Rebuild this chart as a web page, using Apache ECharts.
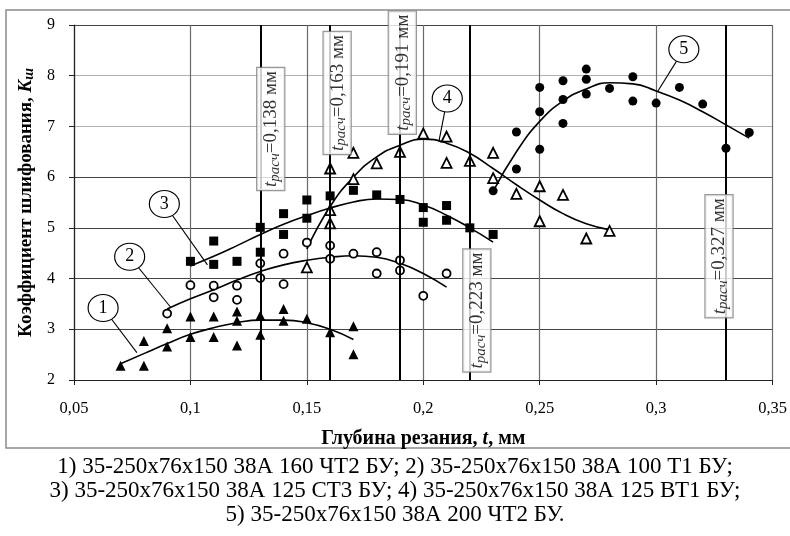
<!DOCTYPE html>
<html><head><meta charset="utf-8">
<script src="https://cdn.jsdelivr.net/npm/echarts@6/dist/echarts.min.js"></script>
<style>html,body{margin:0;padding:0;background:#fff}#c{width:790px;height:536px}</style>
</head><body><div id="c"></div>
<script>
// ---- data ----
const xTicksMin = 0.05, xTicksMax = 0.35, xInterval = 0.05;
const yTicksMin = 2, yTicksMax = 9, yInterval = 1;

const s1Points = [[0.07,2.28],[0.08,2.28],[0.08,2.77],[0.09,3.02],[0.09,2.66],[0.10,3.25],[0.10,2.85],[0.11,3.25],[0.11,2.85],[0.12,3.35],[0.12,3.17],[0.12,2.68],[0.13,3.27],[0.13,2.89],[0.14,3.40],[0.14,3.17],[0.15,3.21],[0.16,2.94],[0.17,3.06],[0.17,2.51]];
const s2Points = [[0.09,3.31],[0.10,3.87],[0.11,3.86],[0.11,3.63],[0.12,3.86],[0.12,3.58],[0.13,4.30],[0.13,4.01],[0.14,4.49],[0.14,3.89],[0.15,4.71],[0.16,4.65],[0.16,4.39],[0.17,4.49],[0.18,4.52],[0.18,4.10],[0.19,4.36],[0.19,4.16],[0.20,3.66],[0.21,4.10]];
const s3Points = [[0.10,4.34],[0.11,4.74],[0.11,4.28],[0.12,4.34],[0.13,5.01],[0.13,4.52],[0.14,5.28],[0.14,4.87],[0.15,5.55],[0.15,5.19],[0.16,5.63],[0.17,5.74],[0.18,5.65],[0.19,5.56],[0.20,5.40],[0.20,5.11],[0.21,5.44],[0.21,5.15],[0.22,5.00],[0.23,4.87]];
const s4Points = [[0.15,4.22],[0.16,6.17],[0.16,5.35],[0.16,5.09],[0.17,6.48],[0.17,5.96],[0.18,6.27],[0.19,6.50],[0.20,6.86],[0.21,6.80],[0.21,6.28],[0.22,6.32],[0.23,6.48],[0.23,5.98],[0.24,5.67],[0.25,5.82],[0.25,5.13],[0.26,5.65],[0.27,4.79],[0.28,4.94]];
const s5Points = [[0.23,5.73],[0.24,6.89],[0.24,6.16],[0.25,7.77],[0.25,7.29],[0.25,6.55],[0.26,7.90],[0.26,7.53],[0.26,7.06],[0.27,8.13],[0.27,7.93],[0.27,7.64],[0.28,7.75],[0.29,7.98],[0.29,7.50],[0.30,7.46],[0.31,7.77],[0.32,7.44],[0.33,6.57],[0.34,6.88]];

const c1 = [[0.07,2.32],[0.08,2.52],[0.09,2.72],[0.10,2.90],[0.11,3.03],[0.12,3.13],[0.13,3.18],[0.14,3.18],[0.15,3.13],[0.16,3.00],[0.17,2.80]];
const c2 = [[0.09,3.40],[0.10,3.60],[0.11,3.78],[0.12,3.97],[0.13,4.14],[0.14,4.27],[0.15,4.36],[0.16,4.42],[0.17,4.45],[0.18,4.42],[0.19,4.30],[0.20,4.10],[0.21,3.83]];
const c3 = [[0.10,4.25],[0.11,4.44],[0.12,4.65],[0.13,4.87],[0.14,5.07],[0.15,5.24],[0.16,5.39],[0.17,5.51],[0.18,5.57],[0.19,5.56],[0.20,5.45],[0.21,5.25],[0.22,5.00],[0.23,4.72]];
const c4 = [[0.15,4.58],[0.16,5.42],[0.17,6.00],[0.18,6.40],[0.19,6.63],[0.20,6.75],[0.21,6.67],[0.22,6.47],[0.23,6.17],[0.24,5.85],[0.25,5.55],[0.26,5.28],[0.27,5.08],[0.28,4.96]];
const c5 = [[0.23,5.72],[0.24,6.50],[0.25,7.10],[0.26,7.50],[0.27,7.74],[0.28,7.86],[0.29,7.84],[0.30,7.70],[0.31,7.52],[0.32,7.29],[0.33,7.03],[0.34,6.77]];

const calloutNames = ['1','2','3','4','5'];
const calloutCenters = [[0.0625,3.42],[0.0739,4.43],[0.0888,5.47],[0.2103,7.55],[0.3119,8.52]];
const calloutEnds = [[0.077,2.54],[0.0916,3.43],[0.1073,4.27],[0.2067,6.70],[0.3005,7.68]];

const annX = [0.1345,0.163,0.191,0.223,0.327];
const annLabelY = [6.95,7.66,8.06,3.37,4.44];
const annText = ['0,138','0,163','0,191','0,223','0,327'];

const captionLines = [
  '1) 35-250x76x150 38А 160 ЧТ2 БУ; 2) 35-250x76x150 38А 100 Т1 БУ;',
  '3) 35-250x76x150 38А 125 СТ3 БУ; 4) 35-250x76x150 38А 125 ВТ1 БУ;',
  '5) 35-250x76x150 38А 200 ЧТ2 БУ.'
];

// ---- chart ----
const SERIF = 'Liberation Serif';
const chart = echarts.init(document.getElementById('c'), null, {renderer:'canvas'});
const fmtX = v => '{a|' + (+v).toFixed(2).replace(/0$/,'').replace('.',',') + '}';

function curve(data){
  return {type:'line', data, smooth:true, showSymbol:false, symbol:'none', silent:true, z:3,
    lineStyle:{color:'#000', width:1.6}};
}
function pts(data, symbol, size, fill, stroke){
  return {type:'scatter', data, symbol, symbolSize:size, z:4, silent:true,
    itemStyle:{color:fill, borderColor:'#000', borderWidth:stroke, opacity:1}};
}

const option = {
  animation:false,
  backgroundColor:'#fff',
  textStyle:{fontFamily:SERIF},
  grid:{left:74, right:12, top:25, bottom:156, show:false},
  title:{
    text: captionLines.map(l => '{c|' + l + '}').join('\n'), left:'center', top:450, textAlign:'left',
    textStyle:{fontFamily:SERIF, fontSize:23, fontWeight:'normal', color:'#000', lineHeight:24,
      rich:{c:{fontFamily:SERIF, fontSize:23, color:'#000', lineHeight:24, align:'center'}}}
  },
  graphic:[{type:'rect', z:-10, shape:{x:6, y:10, width:820, height:438},
    style:{fill:'none', stroke:'#8a8a8a', lineWidth:1.5}}],
  xAxis:{
    type:'value', min:xTicksMin, max:xTicksMax, interval:xInterval,
    axisLine:{show:true, onZero:false, lineStyle:{color:'#222', width:1.2}},
    axisTick:{show:true, length:5, lineStyle:{color:'#222'}},
    axisLabel:{formatter:fmtX, fontFamily:SERIF, fontSize:16.5, color:'#000', margin:20,
      rich:{a:{fontFamily:SERIF, fontSize:16.5, color:'#000'}}},
    splitLine:{show:true, lineStyle:{color:'#6a6a6a', width:1.2}},
    name:'Глубина резания, {i|t}, мм', nameLocation:'middle', nameGap:49,
    nameTextStyle:{fontFamily:SERIF, fontSize:20, fontWeight:'bold', color:'#000',
      rich:{i:{fontFamily:SERIF, fontSize:20, fontWeight:'bold', fontStyle:'italic', color:'#000'}}}
  },
  yAxis:{
    type:'value', min:yTicksMin, max:yTicksMax, interval:yInterval,
    axisLine:{show:true, onZero:false, lineStyle:{color:'#222', width:1.2}},
    axisTick:{show:true, length:5, lineStyle:{color:'#222'}},
    axisLabel:{fontFamily:SERIF, fontSize:16, color:'#000', margin:19},
    splitLine:{show:true, lineStyle:{color:['#444','#444','#444','#444','#444','#b0b0b0','#b0b0b0','#444'], width:1.2}},
    name:'Коэффициент шлифования, {k|K}{s|ш}', nameLocation:'middle', nameGap:38, nameRotate:90,
    nameTextStyle:{fontFamily:SERIF, fontSize:19, fontWeight:'bold', color:'#000',
      rich:{k:{fontFamily:SERIF, fontSize:19, fontWeight:'bold', fontStyle:'italic', color:'#000'},
            s:{fontFamily:SERIF, fontSize:14, fontWeight:'bold', fontStyle:'italic', color:'#000', verticalAlign:'bottom'}}}
  },
  series:[
    // vertical t_расч lines
    {type:'line', data:[], silent:true, z:2,
      markLine:{silent:true, symbol:['none','none'], animation:false,
        lineStyle:{color:'#000', width:2, type:'solid'}, label:{show:false},
        data: annX.map(x => ({xAxis:x}))}},
    curve(c1), curve(c2), curve(c3), curve(c4), curve(c5),
    pts(s1Points,'triangle',10,'#000',0),
    pts(s2Points,'circle',8,'#fff',1.8),
    pts(s3Points,'rect',9,'#000',0),
    pts(s4Points,'triangle',10,'#fff',1.8),
    pts(s5Points,'circle',9,'#000',0),
    // leader lines
    {type:'lines', coordinateSystem:'cartesian2d', silent:true, z:5,
      lineStyle:{color:'#000', width:1.1, opacity:1},
      data: calloutCenters.map((c,i) => ({coords:[c, calloutEnds[i]]}))},
    // callout circles
    {type:'scatter', silent:true, z:6, symbol:'circle', symbolSize:[30,27],
      itemStyle:{color:'#fff', borderColor:'#000', borderWidth:1.1, opacity:1},
      label:{show:true, position:'inside', formatter:p => p.name, fontFamily:SERIF, fontSize:18, color:'#000'},
      data: calloutCenters.map((c,i) => ({name:calloutNames[i], value:c}))},
    // t_расч label boxes
    {type:'scatter', silent:true, z:7, symbolSize:2, itemStyle:{color:'rgba(0,0,0,0)'},
      label:{show:true, position:'inside', rotate:90, align:'center', verticalAlign:'middle',
        formatter:p => '{t|t}{s|расч}{n|=' + p.name + ' мм}',
        backgroundColor:'#fff', borderColor:'#808080', borderWidth:1.2, padding:[3,3,2,3],
        rich:{
          t:{fontFamily:SERIF, fontSize:19, fontStyle:'italic', color:'#000', lineHeight:22},
          s:{fontFamily:SERIF, fontSize:15, fontStyle:'italic', color:'#000', verticalAlign:'bottom', lineHeight:22},
          n:{fontFamily:SERIF, fontSize:19, color:'#000', lineHeight:22}
        }},
      data: annX.map((x,i) => ({name:annText[i], value:[x, annLabelY[i]]}))}
  ]
};
chart.setOption(option);
</script></body></html>
